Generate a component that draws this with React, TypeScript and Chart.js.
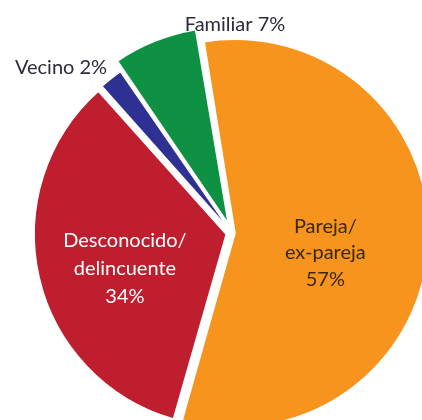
import React, { useEffect, useRef } from "react";
import { Chart, registerables } from "chart.js";

Chart.register(...registerables);

// ---- data ----
const categories = ["Pareja/ex-pareja", "Desconocido/delincuente", "Vecino", "Familiar"];
const values = [57, 34, 2, 7];
const labelNames = [["Pareja/", "ex-pareja"], ["Desconocido/", "delincuente"], ["Vecino"], ["Familiar"]];
const sliceColors = ["#F7941D", "#BE1E2D", "#2E3192", "#0F9144"];
const sliceOffsets = [12, 24, 11, 40];

// ---- label layout (relative to each slice) ----
const labelLayout = [
  { inside: true, r: 0.5, dx: -2, dy: 14.5, align: "center", color: "#3a2810", lineH: 26.5 },
  { inside: true, r: 0.5, dx: -14, dy: 14, align: "center", color: "#ffffff", lineH: 28 },
  { inside: false, r: 1.0, dx: -7, dy: -14.7, align: "right", color: "#2b2b3b", lineH: 20 },
  { inside: false, r: 1.0, dx: 24, dy: -31, align: "left", color: "#2b2b3b", lineH: 20 },
];

const FONT = "20px Lato, 'Open Sans', sans-serif";

const labelPlugin = {
  id: "sliceLabels",
  afterDatasetsDraw(chart: any) {
    const ctx = chart.ctx;
    const meta = chart.getDatasetMeta(0);
    meta.data.forEach((arc: any, i: number) => {
      const { x, y, startAngle, endAngle, outerRadius } = arc.getProps(
        ["x", "y", "startAngle", "endAngle", "outerRadius"],
        true
      );
      const mid = (startAngle + endAngle) / 2;
      const L = labelLayout[i];
      const px = x + Math.cos(mid) * outerRadius * L.r + L.dx;
      const py = y + Math.sin(mid) * outerRadius * L.r + L.dy;
      const lines = L.inside
        ? [...labelNames[i], `${values[i]}%`]
        : [`${labelNames[i].join(" ")} ${values[i]}%`];
      ctx.save();
      ctx.font = FONT;
      ctx.fillStyle = L.color;
      ctx.textAlign = L.align;
      ctx.textBaseline = "middle";
      const n = lines.length;
      lines.forEach((t, k) => {
        ctx.fillText(t, px, py + (k - (n - 1) / 2) * L.lineH);
      });
      ctx.restore();
    });
  },
};

export default function App() {
  const ref = useRef<HTMLCanvasElement | null>(null);
  useEffect(() => {
    if (!ref.current) return;
    const chart = new Chart(ref.current, {
      type: "pie",
      data: {
        labels: categories,
        datasets: [
          {
            data: values,
            backgroundColor: sliceColors,
            borderColor: "#ffffff",
            borderWidth: 1.5,
            offset: sliceOffsets,
          },
        ],
      },
      options: {
        responsive: false,
        animation: false,
        radius: 191,
        rotation: -9.3,
        layout: { padding: 0 },
        plugins: {
          legend: { display: false },
          tooltip: { enabled: false },
          title: { display: false },
        },
        events: [],
      } as any,
      plugins: [labelPlugin],
    });
    return () => chart.destroy();
  }, []);
  return (
    <div
      style={{
        position: "fixed",
        left: 0,
        top: 0,
        width: 422,
        height: 420,
        overflow: "hidden",
        background: "#ffffff",
      }}
    >
      <canvas ref={ref} width={464} height={466} style={{ display: "block" }} />
    </div>
  );
}
